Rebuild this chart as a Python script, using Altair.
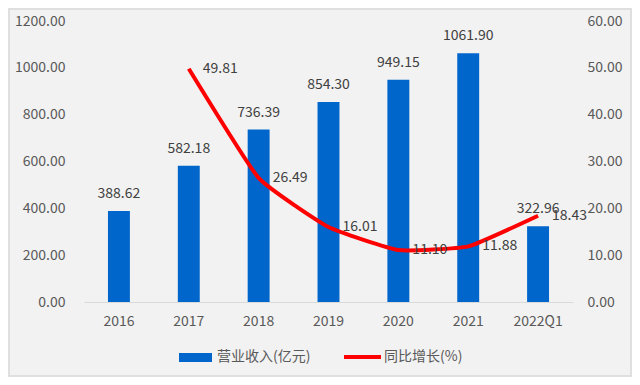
import altair as alt
import pandas as pd

categories = ["2016", "2017", "2018", "2019", "2020", "2021", "2022Q1"]
revenue = [388.62, 582.18, 736.39, 854.30, 949.15, 1061.90, 322.96]
growth = [None, 49.81, 26.49, 16.01, 11.10, 11.88, 18.43]
left_ticks = [0, 200, 400, 600, 800, 1000, 1200]
right_ticks = [0, 10, 20, 30, 40, 50, 60]
legend_names = ["营业收入(亿元)", "同比增长(%)"]

df = pd.DataFrame({"cat": categories, "rev": revenue, "g": growth})
df["rev_label"] = [f"{v:.2f}" for v in revenue]
df["g_label"] = [f"{v:.2f}" if v is not None else "" for v in growth]
df_line = df.dropna(subset=["g"])

FONT = "Noto Sans CJK SC"
AXIS_COLOR = "#595959"
LABEL_COLOR = "#404040"
BLUE = "#0066CC"
RED = "#FF0000"

x_enc = alt.X(
    "cat:N", sort=categories, title=None,
    scale=alt.Scale(paddingInner=0.686, paddingOuter=0.343),
    axis=alt.Axis(labelAngle=0, ticks=False, domainColor="#d9d9d9", domainWidth=1,
                  labelPadding=12, labelFontSize=14, labelColor=AXIS_COLOR, labelFont=FONT, grid=False),
)

y_left = alt.Y(
    "rev:Q", title=None,
    scale=alt.Scale(domain=[0, 1200], nice=False),
    axis=alt.Axis(values=left_ticks, format=".2f", ticks=False, domain=False, grid=False,
                  labelPadding=19, labelFontSize=14, labelColor=AXIS_COLOR, labelFont=FONT),
)

bars = alt.Chart(df).mark_bar(color=BLUE).encode(x=x_enc, y=y_left)
bar_text = alt.Chart(df).mark_text(
    baseline="alphabetic", dy=-13, fontSize=14, font=FONT, color=LABEL_COLOR
).encode(x=x_enc, y=y_left, text="rev_label:N")

# legend and border (decorations)
deco_df = pd.DataFrame({"a": [0]})
border = alt.Chart(deco_df).mark_rect(fillOpacity=0, stroke="#d9d9d9", strokeWidth=1.5).encode(
    x=alt.value(-75), x2=alt.value(547), y=alt.value(-12), y2=alt.value(355))
leg_rect = alt.Chart(deco_df).mark_rect(color=BLUE).encode(
    x=alt.value(95), x2=alt.value(128), y=alt.value(332), y2=alt.value(341))
leg_text1 = alt.Chart(deco_df).mark_text(
    align="left", baseline="middle", fontSize=14, font=FONT, color=AXIS_COLOR, text=legend_names[0]
).encode(x=alt.value(133), y=alt.value(336))
leg_rule = alt.Chart(deco_df).mark_rule(color=RED, strokeWidth=4).encode(
    x=alt.value(260), x2=alt.value(297), y=alt.value(336))
leg_text2 = alt.Chart(deco_df).mark_text(
    align="left", baseline="middle", fontSize=14, font=FONT, color=AXIS_COLOR, text=legend_names[1]
).encode(x=alt.value(300), y=alt.value(336))

left = alt.layer(bars, bar_text, border, leg_rect, leg_text1, leg_rule, leg_text2)

y_right = alt.Y(
    "g:Q", title=None,
    scale=alt.Scale(domain=[0, 60], nice=False),
    axis=alt.Axis(orient="right", values=right_ticks, format=".2f", ticks=False, domain=False, grid=False,
                  labelPadding=14, labelFontSize=14, labelColor=AXIS_COLOR, labelFont=FONT),
)
line = alt.Chart(df_line).mark_line(color=RED, strokeWidth=4, interpolate="cardinal", tension=0.6).encode(
    x=x_enc, y=y_right)
line_text = alt.Chart(df_line).mark_text(
    align="left", baseline="middle", dx=14, fontSize=14, font=FONT, color=LABEL_COLOR
).encode(x=x_enc, y=y_right, text="g_label:N")

right = alt.layer(line, line_text)

chart = alt.layer(left, right).resolve_scale(y="independent").properties(
    width=489, height=281,
    autosize=alt.AutoSizeParams(type="none"),
    padding={"left": 76, "top": 13, "right": 59, "bottom": 75},
    background="#f2f2f2",
).configure_view(stroke=None)

chart.save("out.html", embed_options={"renderer": "svg", "actions": False})
